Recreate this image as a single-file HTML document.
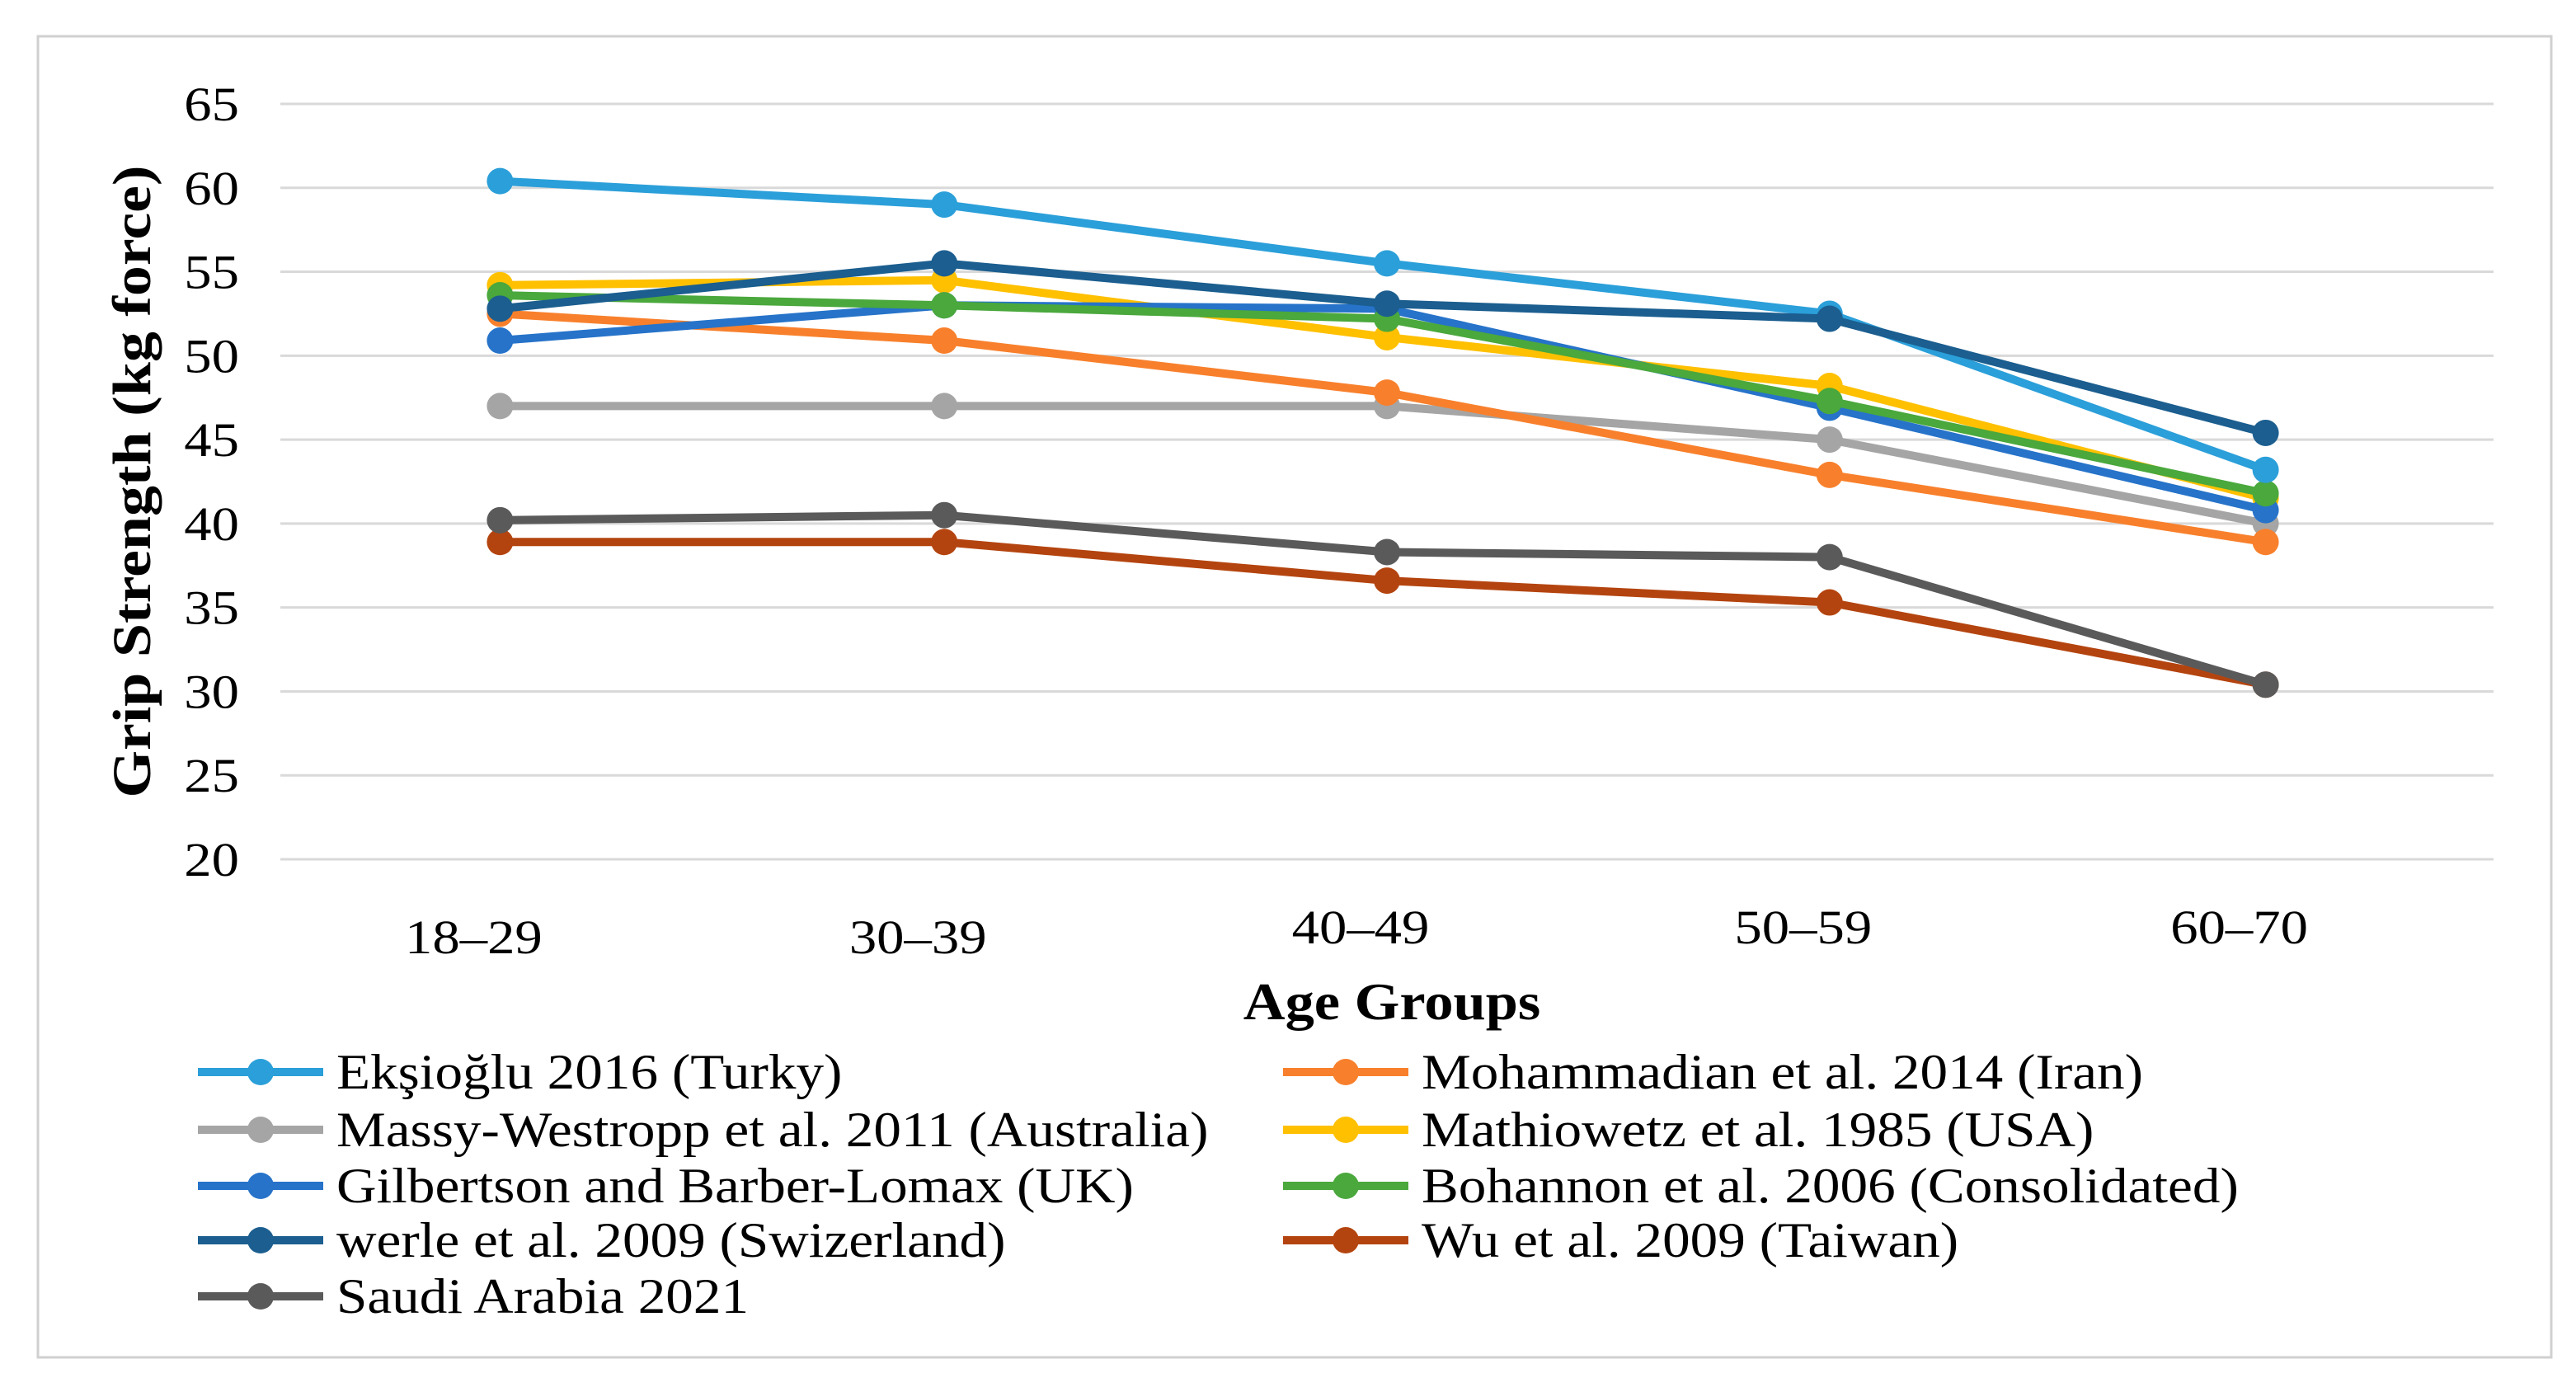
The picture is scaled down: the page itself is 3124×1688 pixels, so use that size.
<!DOCTYPE html>
<html><head><meta charset="utf-8">
<style>
html,body{margin:0;padding:0;background:#fff;}
svg{display:block;}
text{font-family:"Liberation Serif",serif;fill:#000;}
</style></head>
<body>
<svg id="chart" width="3124" height="1688" viewBox="0 0 1562 844" xmlns="http://www.w3.org/2000/svg">
<rect x="23" y="22" width="1524" height="801" fill="#fff" stroke="#d0d0d0" stroke-width="1.5"/>
<g id="grid"></g>
<g id="series"></g>
<g id="legend"></g>
<text transform="translate(91,292) rotate(-90) scale(1.12,1)" text-anchor="middle" font-size="33" font-weight="bold">Grip Strength (kg force)</text>
<text transform="translate(844,618) scale(1.1,1)" text-anchor="middle" font-size="32" font-weight="bold">Age Groups</text>
</svg>
<script>
const categories = ["18–29","30–39","40–49","50–59","60–70"];
const yTicks = [20,25,30,35,40,45,50,55,60,65];
const seriesNames = ["Ekşioğlu 2016 (Turky)","Mohammadian et al. 2014 (Iran)","Massy-Westropp et al. 2011 (Australia)","Mathiowetz et al. 1985 (USA)","Gilbertson and  Barber-Lomax (UK)","Bohannon et al. 2006 (Consolidated)","werle et al. 2009 (Swizerland)","Wu et al. 2009 (Taiwan)","Saudi Arabia 2021"];
const eksioglu = [60.4,59.0,55.5,52.5,43.2];
const mohammadian = [52.5,50.9,47.8,42.9,38.9];
const massy = [47.0,47.0,47.0,45.0,40.0];
const mathiowetz = [54.2,54.5,51.1,48.2,41.5];
const gilbertson = [50.9,53.0,52.8,46.9,40.8];
const bohannon = [53.6,53.0,52.2,47.3,41.8];
const werle = [52.8,55.5,53.1,52.2,45.4];
const wu = [38.9,38.9,36.6,35.3,30.4];
const saudi = [40.2,40.5,38.3,38.0,30.4];
const seriesValues = [eksioglu,mohammadian,massy,mathiowetz,gilbertson,bohannon,werle,wu,saudi];
const colors = ["#2b9fd9","#f8802c","#a5a5a5","#ffc000","#2673c9","#4aa83c","#1b5e8f","#b4440f","#5a5a5a"];
const drawOrder = [2,1,3,4,5,0,6,7,8];

const NS="http://www.w3.org/2000/svg";
const X0=170,X1=1512,Y20=521,Y65=63;
function yScale(v){return Y20-(v-20)*(Y20-Y65)/45;}
function xScale(i){const bw=(X1-X0)/categories.length;return X0+bw*(i+0.5)+(i===0?-1:0)+(i===4?-4:0);}
function mk(tag,attrs,parent){const e=document.createElementNS(NS,tag);for(const k in attrs)e.setAttribute(k,attrs[k]);parent.appendChild(e);return e;}

const grid=document.getElementById('grid');
yTicks.forEach(t=>{
  const l=mk('line',{x1:X0,x2:X1,y1:yScale(t),y2:yScale(t),stroke:"#d9d9d9","stroke-width":1.5},grid);
  
  
  const tx=mk('text',{transform:"translate(145,"+(yScale(t)+10)+") scale(1.15,1)","text-anchor":"end","font-size":29},grid);
  tx.textContent=t;
  
  
});
categories.forEach((c,i)=>{
  const ty = i<2 ? 578 : 572;
  const tx=mk('text',{transform:"translate("+(xScale(i)-16)+","+ty+") scale(1.15,1)","text-anchor":"middle","font-size":29},grid);
  tx.textContent=c;
  
  
});

const sg=document.getElementById('series');
drawOrder.forEach(si=>{
  const g=mk('g',{},sg);
  
  
  const vals=seriesValues[si];
  const pts=vals.map((v,i)=>xScale(i)+','+yScale(v)).join(' ');
  const pl=mk('polyline',{points:pts,fill:"none",stroke:colors[si],"stroke-width":5,"stroke-linejoin":"round"},g);
  
  
  vals.forEach((v,i)=>{
    const c=mk('circle',{cx:xScale(i),cy:yScale(v),r:8,fill:colors[si]},g);
    
    
  });
});

const lg=document.getElementById('legend');
const rowsY=[650,685,719,752,786];
seriesNames.forEach((n,i)=>{
  const col=i%2, row=Math.floor(i/2);
  const lx=col===0?120:778, y=rowsY[row];
  const g=mk('g',{},lg);
  
  
  mk('line',{x1:lx,x2:lx+76,y1:y,y2:y,stroke:colors[i],"stroke-width":5},g);
  mk('circle',{cx:lx+38,cy:y,r:8,fill:colors[i]},g);
  const t=mk('text',{transform:"translate("+(lx+84)+","+(y+10)+") scale(1.12,1)","font-size":30},g);
  t.textContent=n;
});
</script>
</body></html>
